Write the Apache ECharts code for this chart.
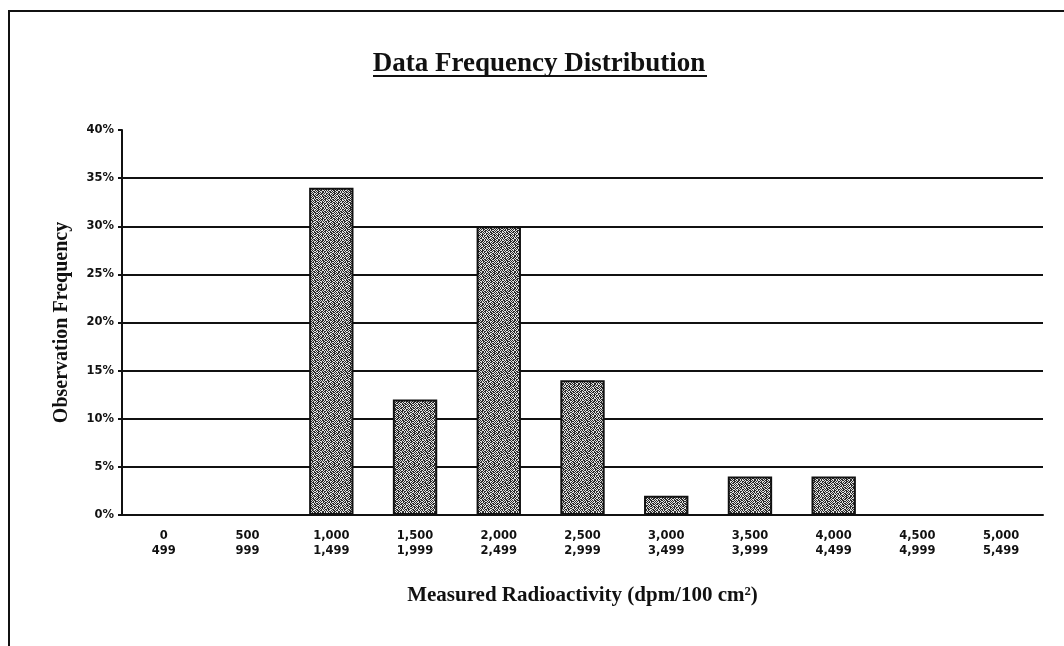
<!DOCTYPE html>
<html>
<head>
<meta charset="utf-8">
<title>Data Frequency Distribution</title>
<script src="https://cdn.jsdelivr.net/npm/echarts@6/dist/echarts.min.js"></script>
<style>
  html, body { margin: 0; padding: 0; background: #fff; }
  #chart { width: 1064px; height: 646px; }
</style>
</head>
<body>
<div id="chart"></div>
<script>
// bin lower / upper bounds (dpm/100 cm2)
var binLow = ["0", "500", "1,000", "1,500", "2,000", "2,500", "3,000", "3,500", "4,000", "4,500", "5,000"];
var binHigh = ["499", "999", "1,499", "1,999", "2,499", "2,999", "3,499", "3,999", "4,499", "4,999", "5,499"];
// observation frequency, percent
var frequency = [0, 0, 34, 12, 30, 14, 2, 4, 4, 0, 0];

// speckled fill like the scanned bars (fixed bit pattern, no randomness)
function stipple() {
  var rows = [
    "1011010010110110",
    "0110101101001011",
    "1101001011010110",
    "0010110101101101",
    "1011011010110010",
    "0101100101011101",
    "1001011011010010",
    "0110110100101101",
    "1101010010110110",
    "0010101101011001",
    "1011001010110110",
    "0110110101001011",
    "1010100110110010",
    "0101011011001101",
    "1100101010010110",
    "0011010101101011"
  ];
  var c = document.createElement("canvas");
  c.width = 16; c.height = 16;
  var ctx = c.getContext("2d");
  ctx.fillStyle = "#e2e2e2";
  ctx.fillRect(0, 0, 16, 16);
  ctx.fillStyle = "#2a2a2a";
  for (var y = 0; y < 16; y++) {
    for (var x = 0; x < 16; x++) {
      if (rows[y][x] === "1") ctx.fillRect(x, y, 1, 1);
    }
  }
  return c;
}

var chart = echarts.init(document.getElementById("chart"));
var serif = "'Liberation Serif', 'DejaVu Serif', serif";
var sans = "'DejaVu Sans', 'Liberation Sans', sans-serif";

chart.setOption({
  animation: false,
  title: {
    text: "Data Frequency Distribution",
    left: 534,
    top: 46,
    textAlign: "center",
    textStyle: {
      fontFamily: serif,
      fontSize: 27,
      fontWeight: "bold",
      color: "#111"
    }
  },
  graphic: [
    // underline of the title
    { type: "line", shape: { x1: 373, y1: 76, x2: 707, y2: 76 }, style: { stroke: "#111", lineWidth: 2 } },
    // page frame, top and left
    { type: "line", shape: { x1: 8, y1: 11, x2: 1064, y2: 11 }, style: { stroke: "#111", lineWidth: 2 } },
    { type: "line", shape: { x1: 9, y1: 10, x2: 9, y2: 646 }, style: { stroke: "#111", lineWidth: 2 } }
  ],
  grid: {
    left: 122,
    right: 21,
    top: 130,
    bottom: 131
  },
  xAxis: {
    type: "category",
    data: binLow,
    boundaryGap: true,
    name: "Measured Radioactivity (dpm/100 cm²)",
    nameLocation: "middle",
    nameGap: 70,
    nameTextStyle: {
      fontFamily: serif,
      fontSize: 21,
      fontWeight: "bold",
      color: "#111"
    },
    axisLine: { lineStyle: { color: "#111", width: 2 } },
    axisTick: { alignWithLabel: false, length: 4, lineStyle: { color: "#111", width: 2 } },
    axisLabel: {
      margin: 14,
      fontFamily: sans,
      fontSize: 11.5,
      fontWeight: "bold",
      color: "#111",
      lineHeight: 15,
      formatter: function (v, i) {
        return binLow[i] + "\n" + binHigh[i];
      }
    }
  },
  yAxis: {
    type: "value",
    min: 0,
    max: 40,
    interval: 5,
    name: "Observation Frequency",
    nameLocation: "middle",
    nameGap: 50,
    nameTextStyle: {
      fontFamily: serif,
      fontSize: 20,
      fontWeight: "bold",
      color: "#111"
    },
    axisLine: { show: true, lineStyle: { color: "#111", width: 2 } },
    axisTick: { show: true, length: 4, lineStyle: { color: "#111", width: 2 } },
    axisLabel: {
      margin: 8,
      fontFamily: sans,
      fontSize: 11.5,
      fontWeight: "bold",
      color: "#111",
      formatter: "{value}%"
    },
    splitLine: {
      show: true,
      showMaxLine: false,
      lineStyle: { color: "#111", width: 2 }
    }
  },
  series: [
    {
      name: "Frequency",
      type: "bar",
      data: frequency,
      barWidth: "53%",
      itemStyle: {
        color: { image: stipple(), repeat: "repeat" },
        borderColor: "#111",
        borderWidth: 2
      }
    }
  ]
});
</script>
</body>
</html>
